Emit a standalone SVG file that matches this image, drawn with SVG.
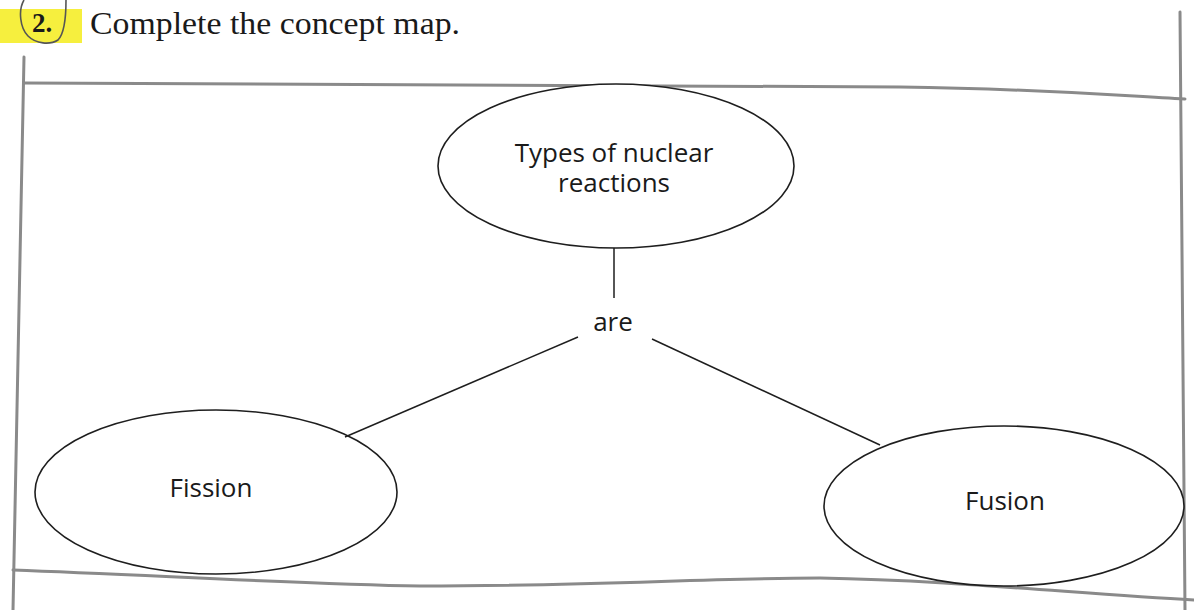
<svg xmlns="http://www.w3.org/2000/svg" width="1194" height="610" viewBox="0 0 1194 610">
<style>
.frame{fill:none;stroke:#8a8a8a;stroke-width:3;stroke-linecap:round}
.node{fill:#fff;stroke:#1e1e1e;stroke-width:1.6}
.lbl{font-family:"Open Sans","Noto Sans",sans-serif;font-size:26px;fill:#1a1a1a;text-anchor:middle}
.conn{stroke:#1e1e1e;stroke-width:1.5;fill:none}
.hdr{font-family:"Liberation Serif",serif;fill:#1a1a1a}
</style>
<rect width="1194" height="610" fill="#fff"/>
<g id="header">
<rect x="0" y="9" width="82" height="34" fill="#f6ef3e"/>
<text class="hdr" x="32" y="32" font-size="27" font-weight="bold">2.</text>
<path d="M24,0 C18,10 20,28 28,36 C36,44 50,45 58,40 C64,34 66,18 66,0" fill="none" stroke="#555" stroke-width="1.6"/>
<text class="hdr" x="90" y="34" font-size="32" textLength="370" lengthAdjust="spacingAndGlyphs">Complete the concept map.</text>
</g>
<g id="frame">
<path class="frame" d="M24,57 L13,610"/>
<path class="frame" d="M1180,12 L1185,610"/>
<path class="frame" d="M24,83 C200,84 500,84 900,87 C1050,89 1120,96 1185,99"/>
<path class="frame" d="M13,570 C150,575 300,584 420,586 C600,586 700,578 820,578 C950,580 1080,594 1194,600"/>
</g>
<g id="node-types">
<ellipse class="node" cx="616" cy="166" rx="178" ry="82"/>
<text class="lbl" x="614" y="163" font-size="25"><tspan x="614" y="162">Types of nuclear</tspan><tspan x="614" y="192">reactions</tspan></text>
</g>
<g id="node-fission">
<ellipse class="node" cx="216" cy="492" rx="181" ry="82"/>
<text class="lbl" x="211" y="497">Fission</text>
</g>
<g id="node-fusion">
<ellipse class="node" cx="1004" cy="506" rx="180" ry="80"/>
<text class="lbl" x="1005" y="510">Fusion</text>
</g>
<g id="connectors">
<line class="conn" x1="614" y1="248" x2="614" y2="298"/>
<text class="lbl" x="613" y="331" font-size="24">are</text>
<line class="conn" x1="578" y1="337" x2="345" y2="437"/>
<line class="conn" x1="652" y1="339" x2="880" y2="445"/>
</g>
</svg>
